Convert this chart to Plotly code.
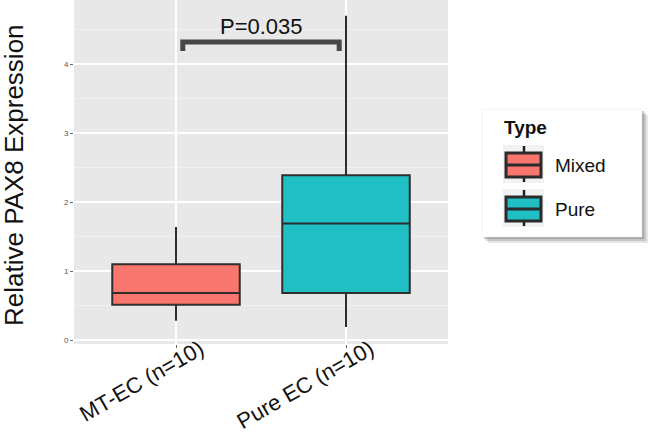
import plotly.graph_objects as go

categories = ["MT-EC (n=10)", "Pure EC (n=10)"]
types = ["Mixed", "Pure"]
colors = ["#F8766D", "#1FBFC4"]
q1 = [0.51, 0.68]
median = [0.68, 1.69]
q3 = [1.10, 2.39]
lowerfence = [0.28, 0.19]
upperfence = [1.64, 4.70]
p_label = "P=0.035"
y_ticks = [0, 1, 2, 3, 4]

# plot area geometry (pixels)
L, T, W, H = 74, 0, 374, 344
FW, FH = 651, 439


def PX(x):
    return (x - L) / W


def PY(y):
    return (T + H - y) / H


fig = go.Figure()
for i in range(2):
    fig.add_trace(go.Box(
        x=[categories[i]], q1=[q1[i]], median=[median[i]], q3=[q3[i]],
        lowerfence=[lowerfence[i]], upperfence=[upperfence[i]],
        name=types[i], fillcolor=colors[i], showlegend=False,
        line=dict(color="#2e2e2e", width=2), whiskerwidth=0, width=0.75,
        boxpoints=False, hoverinfo="skip"))

shapes = []
# significance bracket
bx0, bx1, by_top, by_tip = 0.04, 0.96, 4.32, 4.19
shapes.append(dict(type="path",
                   path=f"M {bx0} {by_tip} L {bx0} {by_top} L {bx1} {by_top} L {bx1} {by_tip}",
                   xref="x", yref="y", line=dict(color="#474747", width=5)))

# legend (drawn manually to mimic the ggplot key)
for k, op in enumerate([0.2, 0.3, 0.45]):
    off = 6 - 2 * k
    shapes.append(dict(type="rect", xref="paper", yref="paper",
                       x0=PX(482 + off), x1=PX(642 + off), y0=PY(237 + off), y1=PY(109 + off),
                       fillcolor="#808080", opacity=op, line=dict(width=0)))
shapes.append(dict(type="rect", xref="paper", yref="paper",
                   x0=PX(482), x1=PX(642), y0=PY(237), y1=PY(109),
                   fillcolor="white", line=dict(color="#e6e6e6", width=0.5)))
annotations = [dict(x=PX(502), y=PY(127), xref="paper", yref="paper", text="<b>Type</b>",
                    showarrow=False, xanchor="left", yanchor="middle",
                    font=dict(size=19, color="#111111"))]
for i in range(2):
    dy = 44 * i
    shapes.append(dict(type="rect", xref="paper", yref="paper",
                       x0=PX(503), x1=PX(544), y0=PY(183 + dy), y1=PY(145 + dy),
                       fillcolor="#F2F2F2", line=dict(width=0)))
    shapes.append(dict(type="line", xref="paper", yref="paper",
                       x0=PX(524), x1=PX(524), y0=PY(182 + dy), y1=PY(146 + dy),
                       line=dict(color="#222222", width=2.5)))
    shapes.append(dict(type="rect", xref="paper", yref="paper",
                       x0=PX(506), x1=PX(541), y0=PY(177 + dy), y1=PY(153 + dy),
                       fillcolor=colors[i], line=dict(color="#2b2b2b", width=3)))
    shapes.append(dict(type="line", xref="paper", yref="paper",
                       x0=PX(506), x1=PX(541), y0=PY(165 + dy), y1=PY(165 + dy),
                       line=dict(color="#2b2b2b", width=3)))
    annotations.append(dict(x=PX(553), y=PY(165 + dy), xref="paper", yref="paper",
                            text=types[i], showarrow=False, xanchor="left", yanchor="middle",
                            font=dict(size=19, color="#111111")))

annotations.append(dict(x=0.5, y=4.55, xref="x", yref="y", text=p_label, showarrow=False,
                        yanchor="middle", font=dict(size=22, color="#111111")))
annotations.append(dict(x=PX(14), y=PY(175), xref="paper", yref="paper",
                        text="Relative PAX8 Expression", textangle=-90, showarrow=False,
                        xanchor="center", yanchor="middle",
                        font=dict(size=26, color="#111111")))

fig.update_layout(
    width=FW, height=FH,
    margin=dict(l=L, r=FW - L - W, t=T, b=FH - T - H, autoexpand=False),
    paper_bgcolor="white", plot_bgcolor="#E8E8E8",
    font=dict(family="Arial, Liberation Sans, sans-serif", color="#111111"),
    boxmode="overlay",
    showlegend=False,
    shapes=shapes, annotations=annotations,
    xaxis=dict(range=[-0.6, 1.6], showgrid=True, gridcolor="white", gridwidth=1.5,
               automargin=False,
               ticks="outside", ticklen=3, tickcolor="#666666", tickwidth=1,
               tickangle=-30, ticklabelshift=24, ticklabelstandoff=-20,
               tickfont=dict(size=22, color="#111111")),
    yaxis=dict(range=[-0.058, 4.93], tickvals=y_ticks, showgrid=True,
               gridcolor="white", gridwidth=1.5, zeroline=False, automargin=False,
               minor=dict(dtick=0.5, showgrid=True, gridcolor="#F1F1F1", gridwidth=0.8),
               ticks="outside", ticklen=3, tickcolor="#666666", tickwidth=1,
               tickfont=dict(size=8, color="#555555")),
)

fig.write_html("out.html", config={"displayModeBar": False},
               post_script="document.body.style.margin='0';document.body.style.overflow='hidden';")
